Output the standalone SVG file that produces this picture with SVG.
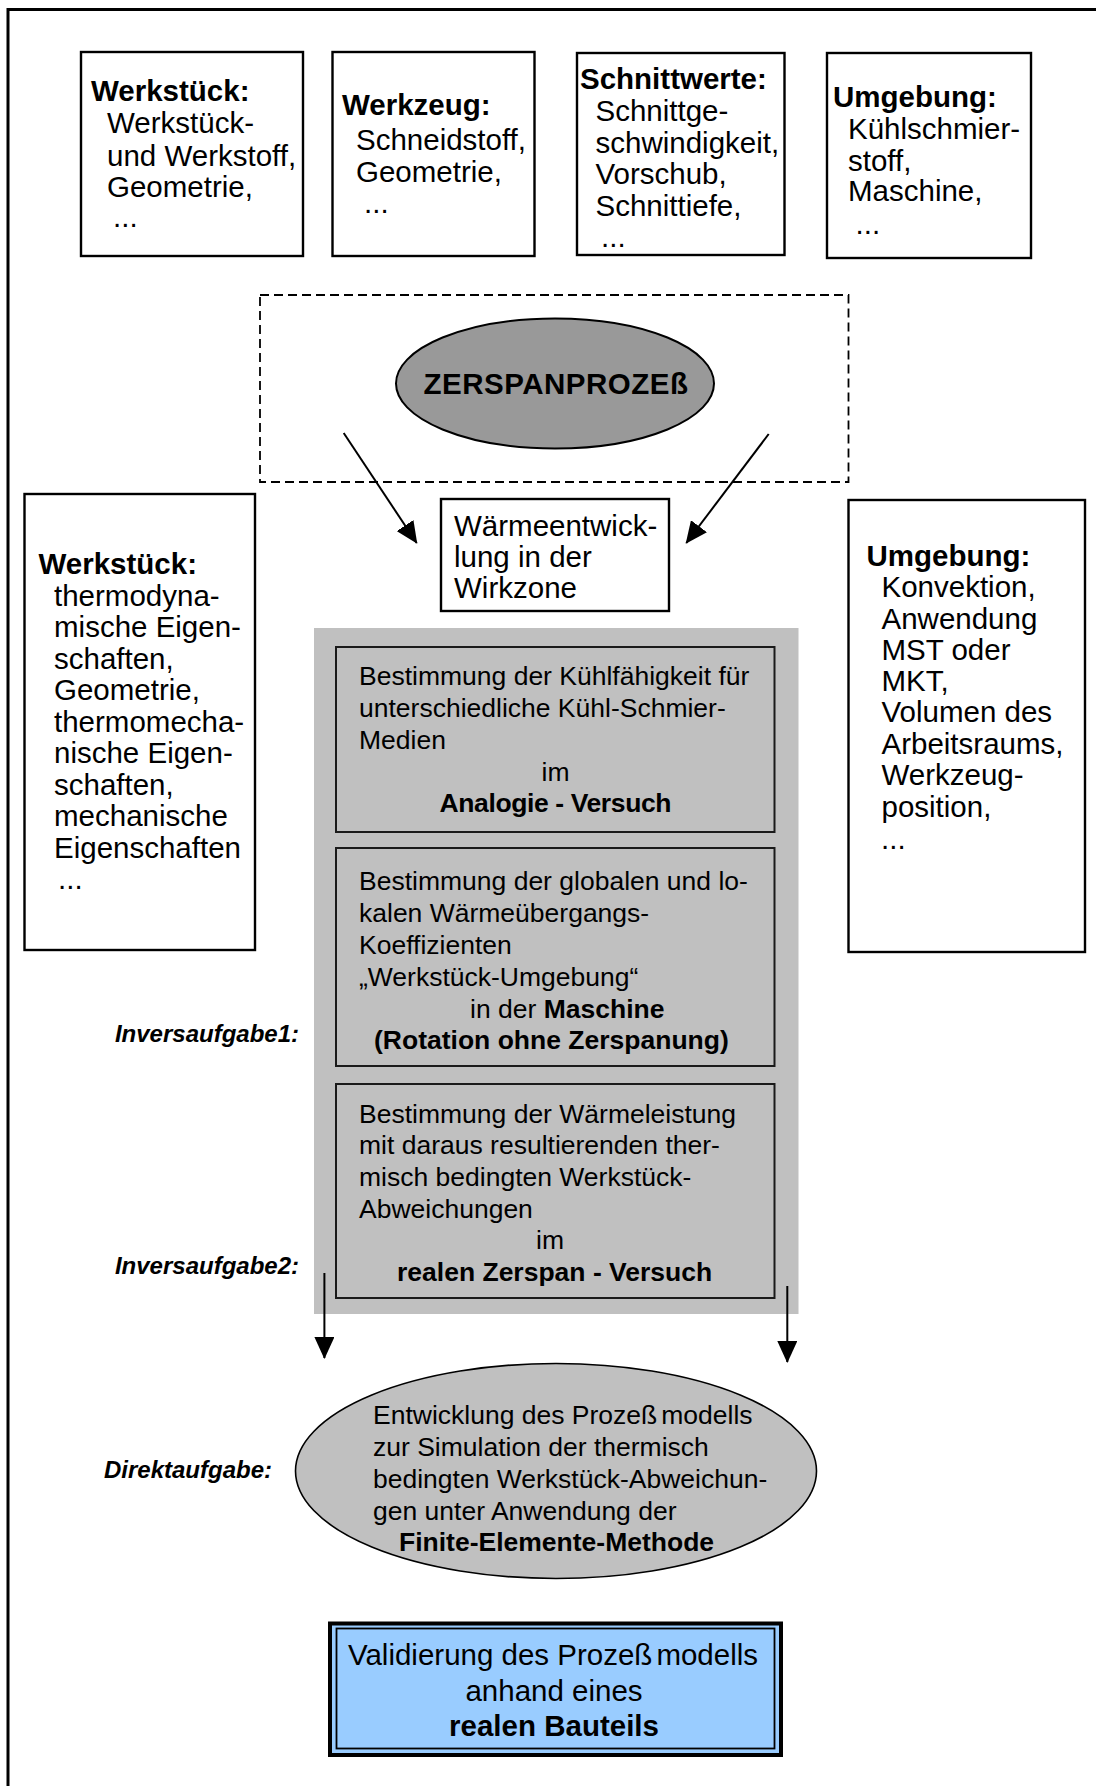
<svg xmlns="http://www.w3.org/2000/svg" width="1096" height="1786" viewBox="0 0 1096 1786">
  <defs>
    <style>
      text { font-family: "Liberation Sans", Arial, Helvetica, sans-serif; fill: #000; }
      .box { fill: #fff; stroke: #000; stroke-width: 2.4; }
      .f29 { font-size: 29.5px; }
      .f26 { font-size: 26.5px; }
      .b { font-weight: bold; }
      .mid { text-anchor: middle; }
      .task { font-size: 24px; font-weight: bold; font-style: italic; text-anchor: end; }
      .inner { fill: none; stroke: #1a1a1a; stroke-width: 2; }
      .conn { fill: none; stroke: #000; stroke-width: 2; }
    </style>
    <marker id="arrow" markerUnits="userSpaceOnUse" markerWidth="22" markerHeight="20" refX="21" refY="10" orient="auto">
      <path d="M0,0 L22,10 L0,20 z" fill="#000"/>
    </marker>
  </defs>

  <rect x="0" y="0" width="1096" height="1786" fill="#fff"/>

  <!-- page frame (top and left edges) -->
  <path d="M8,1786 V9.5 H1096" fill="none" stroke="#000" stroke-width="3"/>

  <!-- influence factors of the cutting process -->
  <g id="werkstueck-top">
    <rect class="box" x="81" y="52" width="222" height="204"/>
    <text class="f29 b" x="91" y="101">Werkstück:</text>
    <text class="f29" x="107" y="133">Werkstück-</text>
    <text class="f29" x="107" y="165.5">und Werkstoff,</text>
    <text class="f29" x="107" y="197">Geometrie,</text>
    <text class="f29" x="113" y="227">...</text>
  </g>

  <g id="werkzeug">
    <rect class="box" x="332.5" y="52" width="202" height="204"/>
    <text class="f29 b" x="342" y="115">Werkzeug:</text>
    <text class="f29" x="356" y="149.5">Schneidstoff,</text>
    <text class="f29" x="356" y="181.5">Geometrie,</text>
    <text class="f29" x="364" y="212.5">...</text>
  </g>

  <g id="schnittwerte">
    <rect class="box" x="577" y="53" width="207.5" height="202"/>
    <text class="f29 b" x="580" y="88.5">Schnittwerte:</text>
    <text class="f29" x="595.5" y="120.5">Schnittge-</text>
    <text class="f29" x="595.5" y="152.5">schwindigkeit,</text>
    <text class="f29" x="595.5" y="183.5">Vorschub,</text>
    <text class="f29" x="595.5" y="215.5">Schnittiefe,</text>
    <text class="f29" x="601" y="246.5">...</text>
  </g>

  <g id="umgebung-top">
    <rect class="box" x="827" y="53" width="204" height="205"/>
    <text class="f29 b" x="833" y="106.5">Umgebung:</text>
    <text class="f29" x="848" y="138.5">Kühlschmier-</text>
    <text class="f29" x="848" y="170.5">stoff,</text>
    <text class="f29" x="848" y="201">Maschine,</text>
    <text class="f29" x="855.5" y="233.5">...</text>
  </g>

  <!-- process boundary -->
  <g id="prozess">
    <rect x="260" y="295" width="588.5" height="187" fill="none" stroke="#000" stroke-width="1.8" stroke-dasharray="9 5"/>
    <ellipse cx="555" cy="383.5" rx="159" ry="65" fill="#999" stroke="#000" stroke-width="2"/>
    <text class="f29 b mid" x="556" y="394" letter-spacing="0.5">ZERSPANPROZEß</text>
  </g>

  <g id="waermeentwicklung">
    <rect class="box" x="441" y="499" width="228" height="112"/>
    <text class="f29" x="454" y="536">Wärmeentwick-</text>
    <text class="f29" x="454" y="567">lung in der</text>
    <text class="f29" x="454" y="598">Wirkzone</text>
  </g>

  <g id="werkstueck-mid">
    <rect class="box" x="24.5" y="494" width="230.5" height="456"/>
    <text class="f29 b" x="38.5" y="574">Werkstück:</text>
    <text class="f29" x="54" y="605.5">thermodyna-</text>
    <text class="f29" x="54" y="637">mische Eigen-</text>
    <text class="f29" x="54" y="668.5">schaften,</text>
    <text class="f29" x="54" y="700">Geometrie,</text>
    <text class="f29" x="54" y="731.5">thermomecha-</text>
    <text class="f29" x="54" y="763">nische Eigen-</text>
    <text class="f29" x="54" y="794.5">schaften,</text>
    <text class="f29" x="54" y="826">mechanische</text>
    <text class="f29" x="54" y="857.5">Eigenschaften</text>
    <text class="f29" x="58" y="888.5">...</text>
  </g>

  <g id="umgebung-mid">
    <rect class="box" x="848.5" y="500" width="236.5" height="452"/>
    <text class="f29 b" x="866.5" y="565.5">Umgebung:</text>
    <text class="f29" x="881.5" y="597">Konvektion,</text>
    <text class="f29" x="881.5" y="628.5">Anwendung</text>
    <text class="f29" x="881.5" y="659.5">MST oder</text>
    <text class="f29" x="881.5" y="691">MKT,</text>
    <text class="f29" x="881.5" y="722">Volumen des</text>
    <text class="f29" x="881.5" y="753.5">Arbeitsraums,</text>
    <text class="f29" x="881.5" y="785">Werkzeug-</text>
    <text class="f29" x="881.5" y="816.5">position,</text>
    <text class="f29" x="881" y="849">...</text>
  </g>

  <!-- experimental tasks -->
  <g id="versuche">
    <rect x="314" y="628" width="484.5" height="686" fill="#c0c0c0"/>

    <g id="analogie-versuch">
      <rect class="inner" x="336" y="647" width="438.5" height="185"/>
      <text class="f26" x="359" y="685">Bestimmung der Kühlfähigkeit für</text>
      <text class="f26" x="359" y="717">unterschiedliche Kühl-Schmier-</text>
      <text class="f26" x="359" y="748.5">Medien</text>
      <text class="f26" x="541.5" y="780.5">im</text>
      <text class="f26 b" x="439.5" y="811.5" textLength="232" lengthAdjust="spacing">Analogie - Versuch</text>
    </g>

    <g id="maschine-versuch">
      <rect class="inner" x="336" y="848" width="438.5" height="218"/>
      <text class="f26" x="359" y="889.5">Bestimmung der globalen und lo-</text>
      <text class="f26" x="359" y="921.5">kalen Wärmeübergangs-</text>
      <text class="f26" x="359" y="953.5">Koeffizienten</text>
      <text class="f26" x="359" y="985.5">„Werkstück-Umgebung“</text>
      <text class="f26" x="470" y="1017.5">in der <tspan class="b">Maschine</tspan></text>
      <text class="f26 b" x="374" y="1048.5">(Rotation ohne Zerspanung)</text>
    </g>

    <g id="zerspan-versuch">
      <rect class="inner" x="336" y="1084" width="438.5" height="214"/>
      <text class="f26" x="359" y="1123">Bestimmung der Wärmeleistung</text>
      <text class="f26" x="359" y="1154">mit daraus resultierenden ther-</text>
      <text class="f26" x="359" y="1186">misch bedingten Werkstück-</text>
      <text class="f26" x="359" y="1218">Abweichungen</text>
      <text class="f26" x="536" y="1249">im</text>
      <text class="f26 b" x="397" y="1281">realen Zerspan - Versuch</text>
    </g>
  </g>

  <g id="aufgaben">
    <text class="task" x="299" y="1042">Inversaufgabe1:</text>
    <text class="task" x="299" y="1274">Inversaufgabe2:</text>
    <text class="task" x="272" y="1478">Direktaufgabe:</text>
  </g>

  <g id="prozessmodell">
    <ellipse cx="556" cy="1471" rx="260.5" ry="107.5" fill="#c0c0c0" stroke="#000" stroke-width="1.6"/>
    <text class="f26" x="373" y="1424">Entwicklung des Prozeß<tspan dx="4">modells</tspan></text>
    <text class="f26" x="373" y="1456">zur Simulation der thermisch</text>
    <text class="f26" x="373" y="1488">bedingten Werkstück-Abweichun-</text>
    <text class="f26" x="373" y="1519.5">gen unter Anwendung der</text>
    <text class="f26 b" x="399" y="1551">Finite-Elemente-Methode</text>
  </g>

  <g id="validierung">
    <rect x="330" y="1623.5" width="451" height="131.5" fill="#99ccff" stroke="#000" stroke-width="4"/>
    <rect x="336.5" y="1628.5" width="438" height="120" fill="none" stroke="#000" stroke-width="1.8"/>
    <text class="mid" font-size="29.5" x="553" y="1665">Validierung des Prozeß<tspan dx="4">modells</tspan></text>
    <text class="mid" font-size="29.5" x="554" y="1701">anhand eines</text>
    <text class="mid b" font-size="29.5" x="554" y="1736">realen Bauteils</text>
  </g>

  <!-- connectors -->
  <g id="connectors">
    <line class="conn" x1="343.7" y1="433" x2="416.7" y2="543" marker-end="url(#arrow)"/>
    <line class="conn" x1="768.7" y1="434" x2="686.3" y2="543" marker-end="url(#arrow)"/>
    <line class="conn" x1="324.4" y1="1273" x2="324.4" y2="1358" marker-end="url(#arrow)"/>
    <line class="conn" x1="787.3" y1="1286" x2="787.3" y2="1362" marker-end="url(#arrow)"/>
  </g>
</svg>
